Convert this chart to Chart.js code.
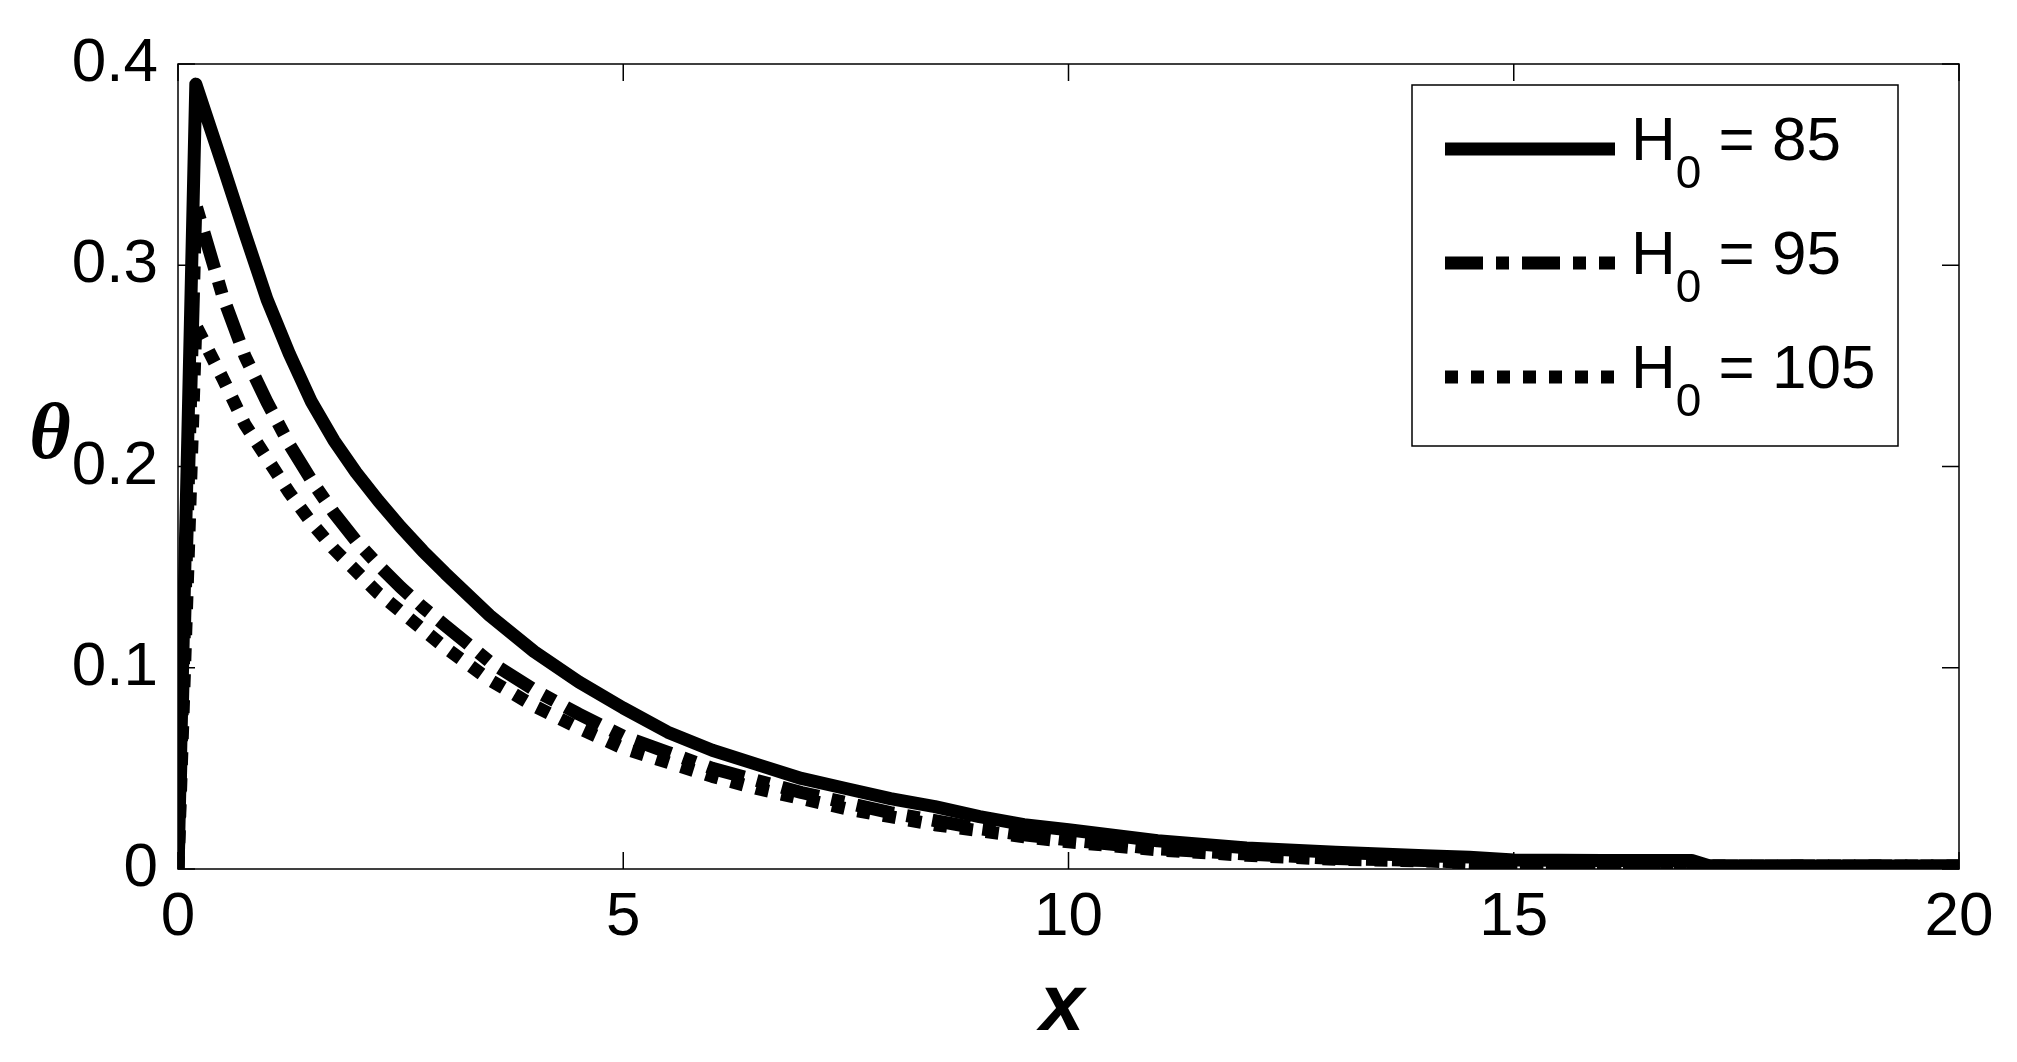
<!DOCTYPE html>
<html lang="en">
<head>
<meta charset="UTF-8">
<title>theta against x for three H0 values</title>
<script src="https://cdn.jsdelivr.net/npm/chart.js@4.4.1/dist/chart.umd.min.js"></script>
<style>
  html, body { margin: 0; padding: 0; background: #fff; }
  #wrap { width: 2017px; height: 1062px; position: relative; }
</style>
</head>
<body>
<div id="wrap"><canvas id="chart"></canvas></div>
<script>
// values
const xs = [0, 0.2, 0.5, 0.75, 1, 1.25, 1.5, 1.75, 2, 2.25, 2.5, 2.75, 3, 3.5, 4, 4.5, 5, 5.5, 6, 6.5, 7,
            7.5, 8, 8.5, 9, 9.5, 10, 11, 12, 13, 14, 14.5, 15, 16, 17, 17.2, 18, 19, 20];
const thetaH85 = [0, 0.390, 0.350, 0.316, 0.283, 0.256, 0.232, 0.213, 0.197, 0.183, 0.170, 0.158, 0.147,
                  0.126, 0.108, 0.093, 0.080, 0.068, 0.059, 0.052, 0.045,
                  0.040, 0.035, 0.031, 0.026, 0.022, 0.0195, 0.014, 0.0105, 0.0083, 0.0066, 0.0059, 0.0045,
                  0.0042, 0.0042, 0.0015, 0.0015, 0.0015, 0.0015];
const thetaH95 = [0, 0.330, 0.285, 0.255, 0.232, 0.211, 0.193, 0.177, 0.163, 0.151, 0.140, 0.130, 0.121,
                  0.103, 0.089, 0.077, 0.066, 0.058, 0.050, 0.044, 0.038,
                  0.033, 0.028, 0.024, 0.020, 0.017, 0.0145, 0.010, 0.0075, 0.0052, 0.0042, 0.0032, 0.0025,
                  0.0018, 0.0015, 0.0015, 0.0015, 0.0015, 0.0015];
const thetaH105 = [0, 0.270, 0.244, 0.221, 0.204, 0.187, 0.172, 0.159, 0.148, 0.137, 0.128, 0.119, 0.110,
                   0.094, 0.081, 0.070, 0.060, 0.053, 0.046, 0.040, 0.035,
                   0.030, 0.026, 0.022, 0.019, 0.016, 0.0135, 0.0095, 0.0068, 0.0048, 0.0040, 0.0030, 0.0024,
                   0.0017, 0.0015, 0.0015, 0.0015, 0.0015, 0.0015];
const h0Values = [85, 95, 105];
const xTicks = [0, 5, 10, 15, 20];
const yTicks = [0, 0.1, 0.2, 0.3, 0.4];

const toPoints = (arr) => xs.map((x, i) => ({ x: x, y: arr[i] }));

// box with inward ticks on all four sides (drawn under the curves)
const boxPlugin = {
  id: 'box',
  beforeDatasetsDraw(chart) {
    const { ctx, chartArea: a, scales } = chart;
    const tl = 17;
    ctx.save();
    ctx.strokeStyle = '#000';
    ctx.lineWidth = 1.5;
    ctx.strokeRect(a.left, a.top, a.right - a.left, a.bottom - a.top);
    ctx.beginPath();
    xTicks.forEach(v => {
      const px = scales.x.getPixelForValue(v);
      ctx.moveTo(px, a.bottom); ctx.lineTo(px, a.bottom - tl);
      ctx.moveTo(px, a.top); ctx.lineTo(px, a.top + tl);
    });
    yTicks.forEach(v => {
      const py = scales.y.getPixelForValue(v);
      ctx.moveTo(a.left, py); ctx.lineTo(a.left + tl, py);
      ctx.moveTo(a.right, py); ctx.lineTo(a.right - tl, py);
    });
    ctx.stroke();
    ctx.restore();
  }
};

// axis titles and the legend with subscript H0
const labelPlugin = {
  id: 'labels',
  afterDraw(chart) {
    const ctx = chart.ctx;
    ctx.save();
    ctx.fillStyle = '#000';
    ctx.textAlign = 'center';
    ctx.textBaseline = 'alphabetic';
    ctx.font = 'italic bold 80px "Liberation Serif"';
    ctx.fillText('θ', 50, 458);
    ctx.font = 'italic bold 80px "Liberation Sans"';
    ctx.fillText('x', 1062, 1030);

    // legend
    const bx = 1412, by = 85, bw = 486, bh = 361;
    ctx.fillStyle = '#fff';
    ctx.fillRect(bx, by, bw, bh);
    ctx.strokeStyle = '#000';
    ctx.lineWidth = 1.5;
    ctx.strokeRect(bx, by, bw, bh);
    ctx.fillStyle = '#000';
    ctx.textAlign = 'left';
    chart.data.datasets.forEach((ds, i) => {
      const cy = 149 + i * 114;
      ctx.save();
      ctx.lineWidth = ds.borderWidth;
      ctx.lineCap = 'butt';
      ctx.setLineDash(ds.borderDash || []);
      ctx.beginPath();
      ctx.moveTo(1445, cy);
      ctx.lineTo(1615, cy);
      ctx.stroke();
      ctx.restore();

      const base = cy + 11;
      let tx = 1631;
      ctx.font = '62px "Liberation Sans"';
      ctx.fillText('H', tx, base);
      tx += ctx.measureText('H').width;
      ctx.font = '46px "Liberation Sans"';
      ctx.fillText('0', tx, base + 28);
      tx += ctx.measureText('0').width;
      ctx.font = '62px "Liberation Sans"';
      ctx.fillText(' = ' + h0Values[i], tx, base);
    });
    ctx.restore();
  }
};

const tickFont = { family: 'Liberation Sans', size: 62 };

const lineStyle = {
  borderColor: '#000', borderWidth: 13, borderJoinStyle: 'round',
  tension: 0, pointRadius: 0, fill: false
};

new Chart(document.getElementById('chart'), {
  type: 'line',
  data: {
    datasets: [
      Object.assign({ label: 'H0 = 85', data: toPoints(thetaH85) }, lineStyle),
      Object.assign({ label: 'H0 = 95', data: toPoints(thetaH95), borderDash: [38, 13, 13, 13] }, lineStyle),
      Object.assign({ label: 'H0 = 105', data: toPoints(thetaH105), borderDash: [13, 13] }, lineStyle)
    ]
  },
  options: {
    responsive: true,
    maintainAspectRatio: false,
    animation: false,
    devicePixelRatio: 1,
    layout: { padding: { left: 0, right: 58, top: 64, bottom: 0 } },
    plugins: { legend: { display: false }, tooltip: { enabled: false } },
    scales: {
      x: {
        type: 'linear', min: 0, max: 20,
        grid: { display: false, drawTicks: false },
        border: { display: false },
        ticks: { stepSize: 5, autoSkip: false, maxRotation: 0, padding: 12, color: '#000', font: tickFont },
        afterFit: (s) => { s.height = 193; }
      },
      y: {
        type: 'linear', min: 0, max: 0.4,
        grid: { display: false, drawTicks: false },
        border: { display: false },
        ticks: { stepSize: 0.1, padding: 20, color: '#000', font: tickFont },
        afterFit: (s) => { s.width = 178; }
      }
    }
  },
  plugins: [boxPlugin, labelPlugin]
});
</script>
</body>
</html>
